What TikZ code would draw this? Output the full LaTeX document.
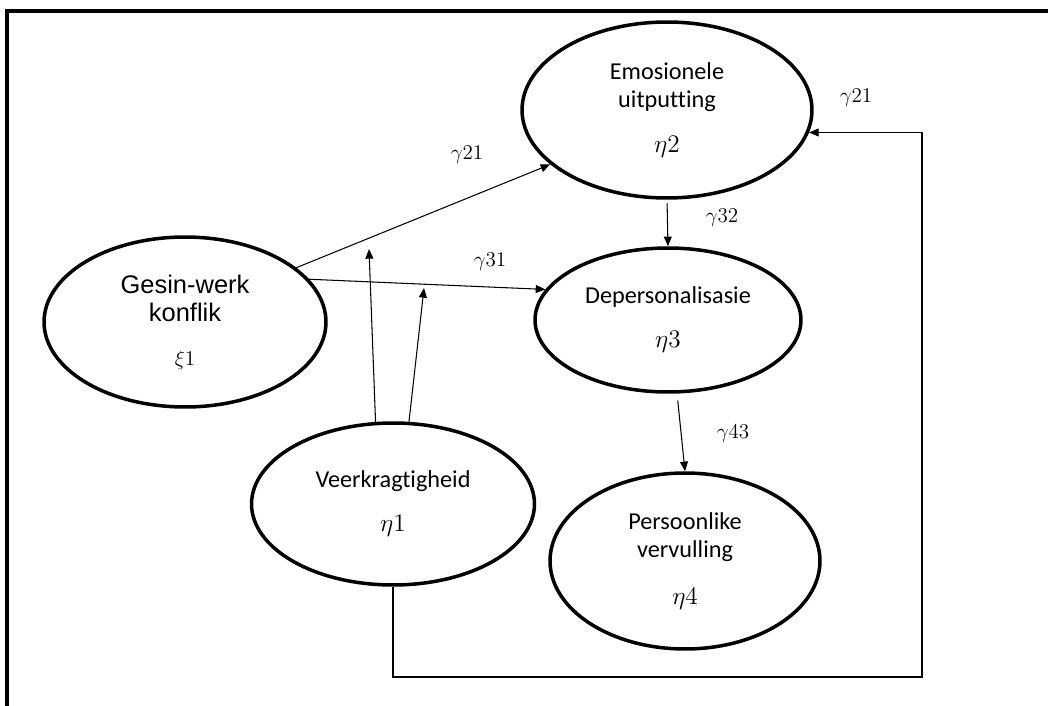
\documentclass[tikz,border=0pt]{standalone}
\usepackage{fontspec}
\setmainfont{Carlito}[Ligatures=NoCommon]
\newfontfamily\arialfont{Liberation Sans}
\usetikzlibrary{shapes.geometric,arrows.meta}
\tikzset{
    latent var/.style={
        draw,ellipse,line width=2pt,
        inner sep=0pt,align=center,
        font=\fontsize{13.8}{16}\selectfont
    },
    path label/.style={
        inner sep=0pt,
        font=\fontsize{11.5}{13}\selectfont
    },
    link/.style={->,line width=0.6pt},
    >={Triangle[length=5.5pt,width=4.5pt]}
}

\begin{document}
\begin{tikzpicture}[x=0.02cm,y=-0.02cm]
\useasboundingbox (0,0) rectangle (1048,706);
\draw[line width=2.2pt] (7,706) -- (7,11) -- (1048,11);
\node[latent var,minimum width=5.64cm,minimum height=3.4cm,
    font=\arialfont\fontsize{14.5}{16}\selectfont] (gwk) at (185,322)
    {Gesin-werk\\konflik\\[9pt]{\fontsize{11.5}{13}\selectfont$\xi1$}};
\node[latent var,minimum width=5.8cm,minimum height=3.52cm] (eu) at (667,110)
    {Emosionele\\uitputting\\[10pt]$\eta2$};
\node[latent var,minimum width=5.32cm,minimum height=2.88cm] (dp) at (668,320)
    {Depersonalisasie\\[9pt]$\eta3$};
\node[latent var,minimum width=5.66cm,minimum height=3.24cm] (vk) at (393,504)
    {Veerkragtigheid\\[9pt]$\eta1$};
\node[latent var,minimum width=5.4cm,minimum height=3.52cm] (pv) at (685,561)
    {Persoonlike\\vervulling\\[11pt]$\eta4$};
\coordinate (m1) at (369,249);
\coordinate (m2) at (424,288);
\coordinate (fb) at (922,677);
\foreach \n/\pos/\txt in {a/{467,155}/21,b/{490,262}/31,c/{722,218}/32,d/{733,434}/43,e/{856,98}/21}
    \node[path label] (g\n) at (\pos) {$\gamma\txt$};
\draw[link] (gwk.26) -- (eu.205);
\draw[link] (gwk.19) -- (dp.166);
\draw[link] (vk.102) -- (m1);
\draw[link] (vk.79) -- (m2);
\draw[link,shorten <=2pt] (eu.south) -- (dp.north);
\draw[link,shorten <=4pt] (dp.277) -- (pv.north);
\draw[link] (vk.south) |- (fb) |- (eu.-9);
\end{tikzpicture}
\end{document}
